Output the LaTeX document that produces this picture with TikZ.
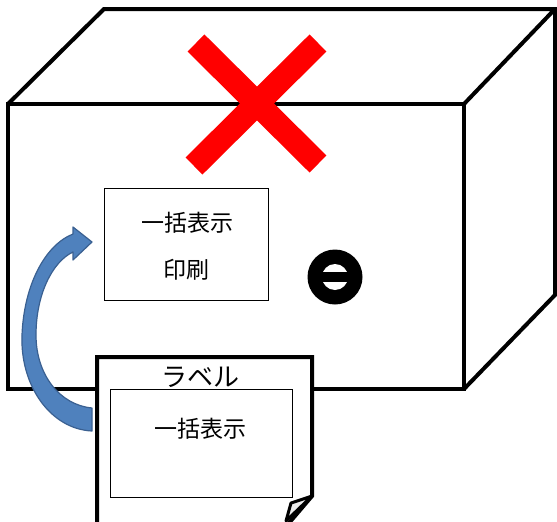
\documentclass[tikz,border=0pt]{standalone}
\usepackage{fontspec}
\newfontfamily\jp{Noto Sans CJK JP}
\definecolor{arrowfill}{RGB}{79,129,189}
\definecolor{arrowedge}{RGB}{58,96,145}
\begin{document}
\begin{tikzpicture}[x=1pt,y=-1pt,
  edge/.style={line width=4pt, line join=miter},
  thinbox/.style={draw, line width=1pt, fill=white, inner sep=0pt},
  jptext/.style={font=\jp\fontsize{23}{27}\selectfont, inner sep=0pt},
  cross/.style={red, line width=24pt},
  bluearrow/.style={fill=arrowfill, draw=arrowedge, line width=1.2pt, line join=round}]
\useasboundingbox (0,0) rectangle (557,522);
\clip (0,0) rectangle (557,522);

% carton corners
\coordinate (ftl) at (8,104);
\coordinate (ftr) at (464,104);
\coordinate (fbr) at (464,389);
\coordinate (fbl) at (8,389);
\coordinate (btl) at (104,9);
\coordinate (btr) at (555,9);
\coordinate (bbr) at (555,295);

% carton
\draw[edge] (ftl) -- (btl) -- (btr) -- (ftr);
\draw[edge] (ftl) -- (ftr) -- (fbr) -- (fbl) -- cycle;
\draw[edge] (btr) -- (bbr) -- (fbr);

% red cross on the top edge
\draw[cross] (196,43) -- (318,164);
\draw[cross] (318,43) -- (194,166);

% printed panel
\node[thinbox, minimum width=164pt, minimum height=112pt] (print) at (186,244) {};
\node[jptext] (printA) at (187,223) {一括表示};
\node[jptext] (printB) at (186,270) {印刷};

% round mark
\fill (335,277) circle[radius=27.5pt];
\fill[white] (335,277) circle[radius=13pt];
\fill (321,271.5) rectangle (349,282);

% label sheet
\filldraw[fill=white, edge] (97,530) -- (97,357) -- (312,357) -- (312,496) -- (283,530);
\filldraw[fill=gray!15, line width=3pt, line join=round] (312,496) -- (291,503) -- (286,521) -- cycle;
\node[jptext, font=\jp\fontsize{26}{30}\selectfont] (labeltitle) at (200,377) {ラベル};
\node[thinbox, minimum width=182pt, minimum height=108pt] (sheet) at (201,443) {};
\node[jptext] (labeltext) at (200,429) {一括表示};

% curved arrow from the label up to the printed panel
\filldraw[bluearrow] (92,431) .. controls (50,429) and (20,385) .. (22,335)
  .. controls (24,285) and (45,245) .. (73,234) -- (73,227) -- (92,242) -- (73,260) -- (73,252)
  .. controls (52,262) and (36,295) .. (36,335) .. controls (36,375) and (60,405) .. (92,408) -- cycle;
\end{tikzpicture}
\end{document}
